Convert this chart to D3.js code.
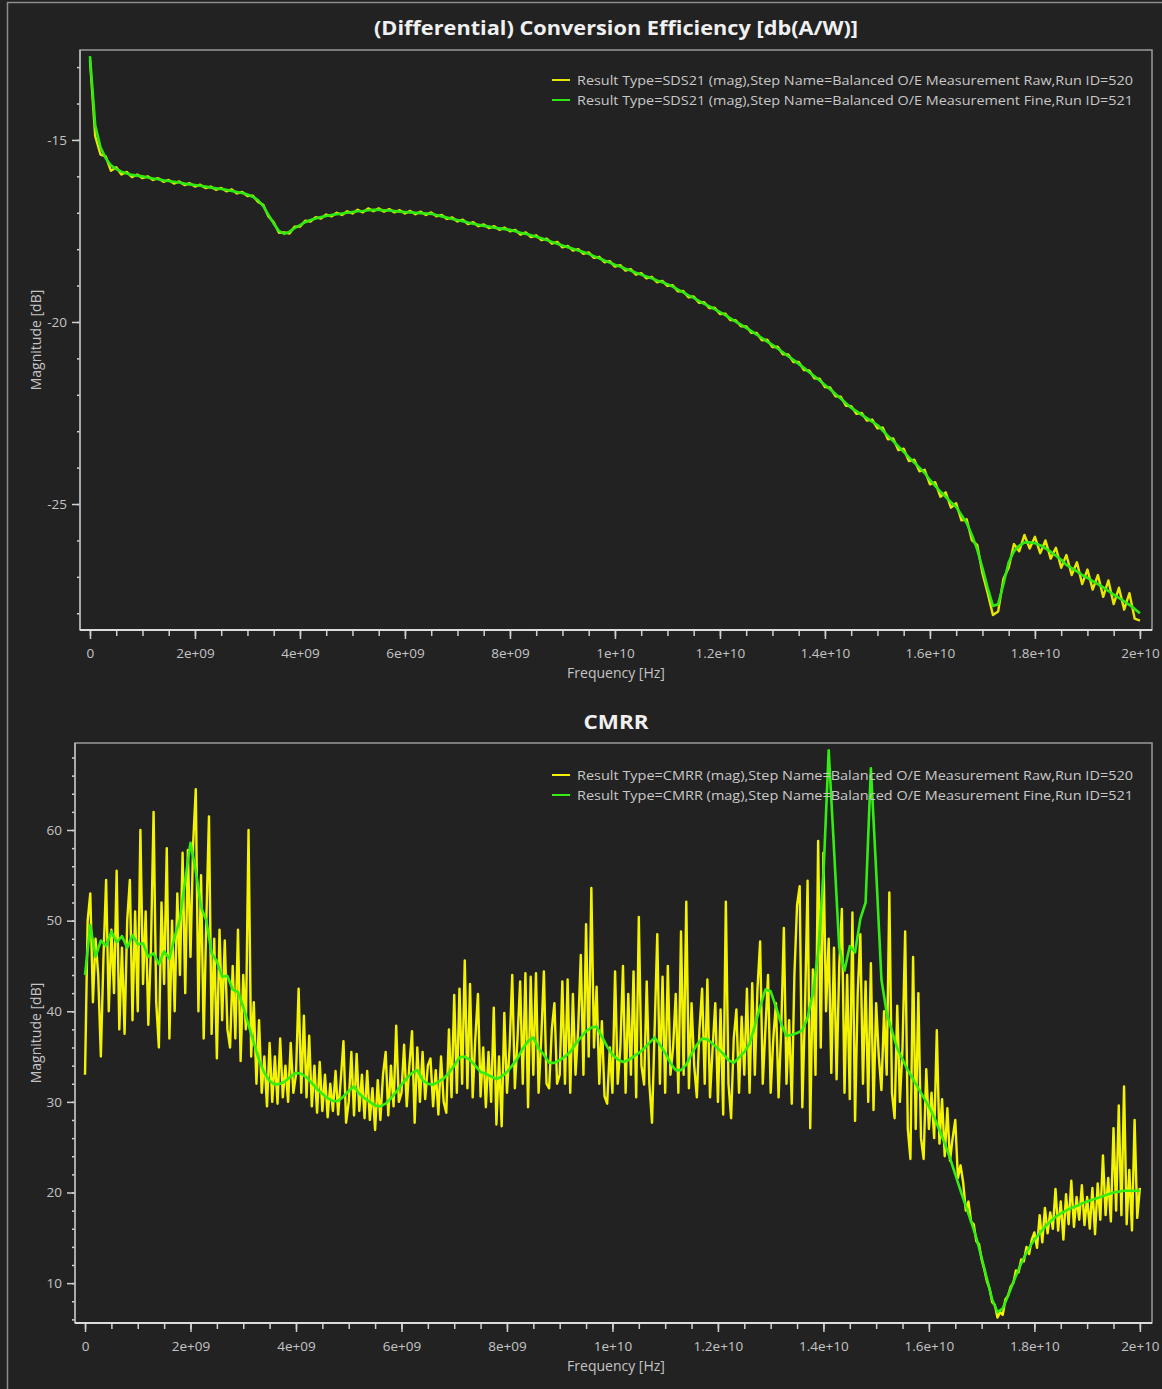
<!DOCTYPE html>
<html>
<head>
<meta charset="utf-8">
<script src="https://cdn.jsdelivr.net/npm/d3@7"></script>
<style>
  body { margin: 0; background: #222; }
  text { font-family: "Segoe UI", "Open Sans", sans-serif; }
</style>
</head>
<body>
<svg id="chart" width="1162" height="1389"></svg>
<script>
// frequency axis (Hz)
const freqTicks = [0, 2e9, 4e9, 6e9, 8e9, 1e10, 1.2e10, 1.4e10, 1.6e10, 1.8e10, 2e10];
const freqTickLabels = ["0", "2e+09", "4e+09", "6e+09", "8e+09", "1e+10", "1.2e+10", "1.4e+10", "1.6e+10", "1.8e+10", "2e+10"];

// SDS21 sweep, 0 .. 20 GHz, every 100 MHz
const sdsStepHz = 1e8;
const sdsRaw = [
  -12.8, -14.9, -15.4, -15.45, -15.85, -15.75, -15.95, -15.88, -16.02, -15.95,
  -16.05, -16.0, -16.1, -16.05, -16.15, -16.1, -16.2, -16.14, -16.24, -16.19,
  -16.28, -16.23, -16.32, -16.28, -16.37, -16.32, -16.41, -16.36, -16.47, -16.43,
  -16.54, -16.53, -16.7, -16.78, -17.1, -17.26, -17.55, -17.54, -17.57, -17.38,
  -17.38, -17.22, -17.24, -17.12, -17.16, -17.05, -17.1, -17.0, -17.06, -16.96,
  -17.02, -16.92, -16.99, -16.88, -16.96, -16.88, -16.97, -16.9, -16.99, -16.93,
  -17.02, -16.95, -17.04, -16.97, -17.06, -16.99, -17.1, -17.06, -17.17, -17.13,
  -17.24, -17.19, -17.31, -17.26, -17.37, -17.32, -17.42, -17.37, -17.47, -17.41,
  -17.51, -17.47, -17.6, -17.54, -17.67, -17.62, -17.75, -17.71, -17.85, -17.8,
  -17.95, -17.91, -18.04, -18.0, -18.13, -18.09, -18.24, -18.21, -18.36, -18.33,
  -18.48, -18.44, -18.59, -18.55, -18.7, -18.66, -18.8, -18.76, -18.91, -18.87,
  -19.01, -18.99, -19.16, -19.15, -19.32, -19.3, -19.47, -19.46, -19.62, -19.61,
  -19.78, -19.77, -19.95, -19.95, -20.12, -20.12, -20.3, -20.3, -20.5, -20.49,
  -20.69, -20.68, -20.89, -20.89, -21.1, -21.1, -21.32, -21.33, -21.55, -21.56,
  -21.79, -21.8, -22.04, -22.05, -22.3, -22.31, -22.52, -22.5, -22.71, -22.68,
  -22.92, -22.9, -23.22, -23.2, -23.52, -23.48, -23.82, -23.78, -24.1, -24.06,
  -24.46, -24.4, -24.8, -24.68, -25.1, -24.98, -25.45, -25.42, -26.0, -26.12,
  -26.9, -27.45, -28.05, -27.95, -27.05, -26.75, -26.1, -26.3, -25.85, -26.22,
  -25.9, -26.35, -26.0, -26.5, -26.2, -26.75, -26.4, -26.95, -26.6, -27.2,
  -26.8, -27.35, -26.95, -27.55, -27.1, -27.75, -27.3, -27.9, -27.45, -28.15,
  -28.2
];
const sdsFine = [
  -12.7, -14.6, -15.2, -15.5, -15.7, -15.8, -15.87, -15.92, -15.96, -15.98,
  -16.0, -16.03, -16.06, -16.08, -16.11, -16.13, -16.15, -16.17, -16.2, -16.22,
  -16.24, -16.26, -16.28, -16.31, -16.33, -16.35, -16.37, -16.4, -16.43, -16.46,
  -16.5, -16.56, -16.65, -16.82, -17.06, -17.3, -17.5, -17.58, -17.52, -17.42,
  -17.34, -17.26, -17.2, -17.16, -17.12, -17.09, -17.06, -17.04, -17.02, -17.0,
  -16.98, -16.96, -16.95, -16.93, -16.92, -16.92, -16.93, -16.94, -16.95, -16.97,
  -16.98, -16.99, -17.0, -17.01, -17.02, -17.03, -17.06, -17.1, -17.13, -17.17,
  -17.2, -17.23, -17.27, -17.3, -17.33, -17.36, -17.38, -17.41, -17.43, -17.45,
  -17.47, -17.51, -17.55, -17.58, -17.62, -17.66, -17.7, -17.75, -17.8, -17.85,
  -17.9, -17.95, -17.99, -18.04, -18.08, -18.13, -18.19, -18.25, -18.31, -18.37,
  -18.43, -18.48, -18.54, -18.59, -18.65, -18.7, -18.75, -18.8, -18.86, -18.91,
  -18.96, -19.03, -19.11, -19.19, -19.27, -19.34, -19.42, -19.5, -19.57, -19.65,
  -19.73, -19.81, -19.9, -19.99, -20.07, -20.16, -20.25, -20.35, -20.44, -20.54,
  -20.63, -20.73, -20.83, -20.94, -21.04, -21.15, -21.26, -21.38, -21.49, -21.61,
  -21.73, -21.85, -21.98, -22.1, -22.23, -22.36, -22.45, -22.55, -22.64, -22.74,
  -22.83, -22.98, -23.13, -23.27, -23.42, -23.57, -23.72, -23.86, -24.0, -24.15,
  -24.34, -24.5, -24.66, -24.8, -24.95, -25.08, -25.3, -25.52, -25.85, -26.25,
  -26.75, -27.3, -27.8, -27.75, -27.2, -26.6, -26.3, -26.14, -26.06, -26.05,
  -26.08, -26.13, -26.22, -26.31, -26.42, -26.53, -26.67, -26.76, -26.85, -26.95,
  -27.03, -27.12, -27.2, -27.29, -27.39, -27.49, -27.58, -27.67, -27.77, -27.88,
  -28.0
];

// CMRR raw sweep, every 50 MHz
const cmrrRawStepHz = 5e7;
const cmrrRaw = [
  33, 50, 53, 41, 48, 44, 35, 46, 54.5, 40, 49, 42, 55.5, 38, 47, 37.5, 50, 54.5, 39, 51,
  40, 60, 43, 51, 38.5, 47, 62, 41, 36, 52, 43, 58, 37, 50, 40, 53, 44, 57.5, 42, 57.8,
  46, 58.5, 64.5, 40, 55, 37, 50, 61.5, 37.5, 48, 34.8, 49, 39, 47.8, 38, 36, 45, 37, 49, 34.5,
  44, 38, 60, 35, 41, 32, 39, 31, 35, 29.5, 36.5, 30, 35, 29.8, 37, 30.5, 34, 30, 36.5, 31,
  33, 42.5, 31, 39.5, 30.5, 37.3, 29.5, 34, 28.8, 34.4, 29, 33, 28.3, 32, 29, 33.4, 28.6, 32.5, 36.7, 27.7,
  30, 35.5, 28.5, 35.3, 29, 33, 28.2, 33.4, 28, 31.5, 26.9, 32.4, 28, 33, 35.5, 28.5, 34, 29.5, 38.4, 30,
  31, 36.3, 29.5, 34, 37.8, 27.7, 36, 30, 35.5, 30.3, 34, 34.8, 29.5, 33.5, 28.6, 35, 30, 28.8, 38, 30.5,
  41.8, 31, 42.5, 32, 45.6, 31.5, 43, 30.5, 37, 41.9, 30.6, 36, 29.4, 35.5, 30, 40.4, 27.5, 35, 27.3, 39.8,
  31, 36, 44, 31.5, 37, 43.3, 32, 44.2, 29.4, 43.8, 33, 44.2, 31, 37, 44.4, 32, 31.5, 38, 40.9, 32,
  33, 43.3, 32, 43.5, 31, 41.9, 33, 38, 46.2, 33, 49.6, 35, 53.6, 36, 42.7, 32, 38.9, 30.6, 29.8, 36,
  31, 44.4, 32, 36, 45, 31, 41.9, 33, 44.4, 30.5, 50.4, 34, 31.9, 43.3, 32, 27.7, 38, 48.5, 32, 43.8,
  31, 45, 33, 36, 41.9, 31, 48.8, 33, 52.1, 31.5, 40.9, 34, 30.5, 38, 42.5, 32, 43.5, 30.5, 36, 40.9,
  30, 40.2, 28.6, 52.1, 32, 28.2, 37, 40.2, 31, 39.4, 33, 42.5, 31, 43.1, 33, 42.5, 47.7, 32, 38, 44,
  31, 37, 40.9, 30.5, 38, 49.2, 32, 39, 29.8, 44, 51.7, 53.8, 29.4, 40, 54.4, 27.1, 44.6, 33, 58.8, 36,
  57.5, 40, 48, 33.2, 47, 32.5, 45, 51.3, 31, 44, 30.3, 50.9, 27.9, 42, 48.5, 32, 43.3, 30, 45.3, 29.1,
  40.9, 35, 31.3, 40, 33, 53.1, 31, 28.2, 40.6, 30, 36, 48.8, 27, 23.7, 46, 27, 42, 26, 23.7, 33.6,
  27, 31, 26, 37.9, 25.4, 30.3, 24, 29.3, 23.5, 26, 28, 21.6, 23, 21.1, 18, 19, 16.8, 16.5, 14.6, 14.3,
  12.6, 11.5, 10.2, 9.4, 7.9, 7.6, 6.2, 6.8, 6.5, 8.2, 8.6, 9.6, 10, 11.4, 11.2, 12.6, 12.4, 14, 13.2, 14.8,
  15.6, 13.9, 17.5, 14.5, 18.3, 15.5, 17.8, 16, 20.4, 15.8, 19, 14.8, 19.8, 16.5, 21.3, 16.2, 19.5, 17, 20.8, 16.4,
  19.5, 16, 20.5, 15.4, 21, 17, 24.1, 17.5, 21.6, 16.8, 27.1, 18, 29.6, 17.5, 31.7, 16.5, 22.5, 15.8, 28, 17.2,
  20.5
];

// CMRR fine sweep, every 100 MHz
const cmrrFineStepHz = 1e8;
const cmrrFine = [
  44, 49.5, 46, 47.8, 47.2, 48.8, 47.6, 48.3, 47, 48.4,
  47.4, 47.5, 46, 46.4, 45.2, 46.6, 45.8, 48.2, 50.2, 54.5,
  58.6, 55.5, 51.5, 50, 46.4, 45.5, 43.8, 43.9, 42.4, 42.1,
  40.5, 38.5, 36.5, 34.6, 33.2, 32.3, 31.9, 32, 32.3, 32.8,
  33.2, 33.1, 32.7, 32.1, 31.4, 30.9, 30.4, 30.1, 30.1, 30.6,
  31.2, 31.7, 30.9, 30.4, 30, 29.6, 29.5, 29.8, 30.4, 31.1,
  31.9, 32.6, 33.2, 33.5, 32.4, 32, 31.9, 32.2, 32.6, 33.2,
  34, 34.9, 35, 34.6, 34, 33.3, 33.1, 32.8, 32.5, 32.8,
  33.3, 34, 34.8, 35.9, 36.7, 37.1, 35.9, 35.2, 34.3, 34.3,
  34.6, 35, 35.5, 36.4, 37.1, 37.8, 38.2, 38.3, 37.2, 36.1,
  35.2, 34.7, 34.4, 34.6, 35, 35.4, 35.9, 36.5, 37.1, 36.3,
  35.4, 34.3, 33.5, 33.5, 34.1, 35.3, 36.3, 37, 36.9, 36.4,
  35.9, 35.3, 34.6, 34.3, 34.9, 35.5, 36.4, 38.4, 40.5, 42.4,
  42.2, 40.5, 38.6, 37.3, 37.4, 37.6, 37.9, 39.3, 42, 46.5,
  55, 68.8, 58, 47, 44.5, 47.2, 46.5, 50.2, 52, 66.8,
  55.5, 43.5, 39.8, 37.8, 35.9, 34.7, 33.5, 32.5, 31.5, 30.5,
  29.5, 28.3, 26.9, 25.4, 23.8, 22, 20.2, 18.5, 16.8, 15,
  12.8, 10.5, 8.2, 6.8, 7.2, 8.6, 10.1, 11.5, 12.8, 13.9,
  14.8, 15.5, 16.2, 16.8, 17.3, 17.7, 18, 18.3, 18.5, 18.8,
  19, 19.2, 19.4, 19.6, 19.8, 20, 20.1, 20.2, 20.2, 20.2,
  20.2
];

const svg = d3.select("#chart");
svg.append("rect").attr("width", 1162).attr("height", 1389).attr("fill", "#222");

// outer frame of the screenshot
svg.append("line").attr("x1", 7.5).attr("x2", 7.5).attr("y1", 2).attr("y2", 1389)
  .attr("stroke", "#8c8c8c").attr("stroke-width", 1.5);
svg.append("line").attr("x1", 7).attr("x2", 1162).attr("y1", 2.5).attr("y2", 2.5)
  .attr("stroke", "#8c8c8c").attr("stroke-width", 1.5);

function drawPanel(p) {
  let g = svg.append("g");

  let x = d3.scaleLinear().domain([-0.19e9, 20.23e9]).range([p.left, p.right]);
  let y = d3.scaleLinear().domain(p.yDomain).range([p.bottom, p.top]);

  // title
  g.append("text")
    .attr("x", 616).attr("y", p.titleY)
    .attr("text-anchor", "middle")
    .attr("fill", "#f0f0f0").attr("font-size", "20px").attr("font-weight", "bold")
    .attr("textLength", p.titleWidth).attr("lengthAdjust", "spacingAndGlyphs")
    .text(p.title);

  // plot frame
  g.append("rect")
    .attr("x", p.left).attr("y", p.top)
    .attr("width", p.right - p.left).attr("height", p.bottom - p.top)
    .attr("fill", "none").attr("stroke", "#9a9a9a").attr("stroke-width", 1.5);

  let clipId = "clip" + p.id;
  g.append("clipPath").attr("id", clipId)
    .append("rect")
    .attr("x", p.left).attr("y", p.top)
    .attr("width", p.right - p.left).attr("height", p.bottom - p.top);

  // series
  p.series.forEach(function(s) {
    let line = d3.line()
      .x(function(d, i) { return x(i * s.step); })
      .y(function(d) { return y(d); });
    g.append("path")
      .datum(s.values)
      .attr("clip-path", "url(#" + clipId + ")")
      .attr("fill", "none")
      .attr("stroke", s.color)
      .attr("stroke-width", s.width)
      .attr("stroke-linejoin", "round")
      .attr("d", line);
  });

  // y axis
  let yMinor = g.append("g").attr("transform", "translate(" + p.left + ",0)")
    .call(d3.axisLeft(y).tickValues(p.yMinor).tickSize(3).tickFormat(""));
  let yMajor = g.append("g").attr("transform", "translate(" + p.left + ",0)")
    .call(d3.axisLeft(y).tickValues(p.yMajor).tickSize(8).tickPadding(5).tickFormat(function(d) { return String(d); }));

  // x axis
  let xMinor = g.append("g").attr("transform", "translate(0," + p.bottom + ")")
    .call(d3.axisBottom(x).tickValues(d3.range(0, 2.01e10, 5e8)).tickSize(6).tickFormat(""));
  let xMajor = g.append("g").attr("transform", "translate(0," + p.bottom + ")")
    .call(d3.axisBottom(x).tickValues(freqTicks).tickSize(9).tickPadding(9)
      .tickFormat(function(d, i) { return freqTickLabels[i]; }));

  [yMinor, yMajor, xMinor, xMajor].forEach(function(a) {
    a.select(".domain").remove();
    a.selectAll(".tick line").attr("stroke", "#d0d0d0").attr("stroke-width", 1.5);
    a.selectAll(".tick text").attr("fill", "#c4c4c4").attr("font-size", "13.5px")
      .style("font-family", "'Segoe UI', 'Open Sans', sans-serif");
  });

  // axis lines
  g.append("line").attr("x1", p.left).attr("x2", p.left).attr("y1", p.top).attr("y2", p.bottom)
    .attr("stroke", "#b8b8b8").attr("stroke-width", 1.5);
  g.append("line").attr("x1", p.left).attr("x2", p.right).attr("y1", p.bottom).attr("y2", p.bottom)
    .attr("stroke", "#dcdcdc").attr("stroke-width", 2);

  // axis titles
  g.append("text")
    .attr("x", 616).attr("y", p.bottom + 48)
    .attr("text-anchor", "middle").attr("fill", "#c4c4c4").attr("font-size", "14px")
    .text("Frequency [Hz]");
  g.append("text")
    .attr("transform", "translate(41," + ((p.top + p.bottom) / 2) + ") rotate(-90)")
    .attr("text-anchor", "middle").attr("fill", "#c4c4c4").attr("font-size", "14px")
    .text("Magnitude [dB]");

  // legend
  p.series.forEach(function(s, i) {
    let ly = p.legendY + i * 20;
    g.append("line").attr("x1", 552).attr("x2", 570).attr("y1", ly).attr("y2", ly)
      .attr("stroke", s.color).attr("stroke-width", 2);
    g.append("text")
      .attr("x", 577).attr("y", ly + 4.5)
      .attr("fill", "#c8c8c8").attr("font-size", "13.5px")
      .attr("textLength", 556).attr("lengthAdjust", "spacingAndGlyphs")
      .text(s.name);
  });
}

drawPanel({
  id: "sds",
  left: 80, right: 1152, top: 50, bottom: 630,
  yDomain: [-28.46, -12.53],
  yMajor: [-15, -20, -25],
  yMinor: d3.range(-28, -12, 1),
  title: "(Differential) Conversion Efficiency [db(A/W)]",
  titleY: 35, titleWidth: 484,
  legendY: 80,
  series: [
    { name: "Result Type=SDS21 (mag),Step Name=Balanced O/E Measurement Raw,Run ID=520",
      values: sdsRaw, step: sdsStepHz, color: "#e6e600", width: 2.4 },
    { name: "Result Type=SDS21 (mag),Step Name=Balanced O/E Measurement Fine,Run ID=521",
      values: sdsFine, step: sdsStepHz, color: "#2ee812", width: 2.6 }
  ]
});

drawPanel({
  id: "cmrr",
  left: 75, right: 1152, top: 743, bottom: 1323,
  yDomain: [5.6, 69.6],
  yMajor: [10, 20, 30, 40, 50, 60],
  yMinor: d3.range(6, 70, 2),
  title: "CMRR",
  titleY: 729, titleWidth: 65,
  legendY: 775,
  series: [
    { name: "Result Type=CMRR (mag),Step Name=Balanced O/E Measurement Raw,Run ID=520",
      values: cmrrRaw, step: cmrrRawStepHz, color: "#f4f400", width: 2.4 },
    { name: "Result Type=CMRR (mag),Step Name=Balanced O/E Measurement Fine,Run ID=521",
      values: cmrrFine, step: cmrrFineStepHz, color: "#33ee11", width: 2.6 }
  ]
});
</script>
</body>
</html>
